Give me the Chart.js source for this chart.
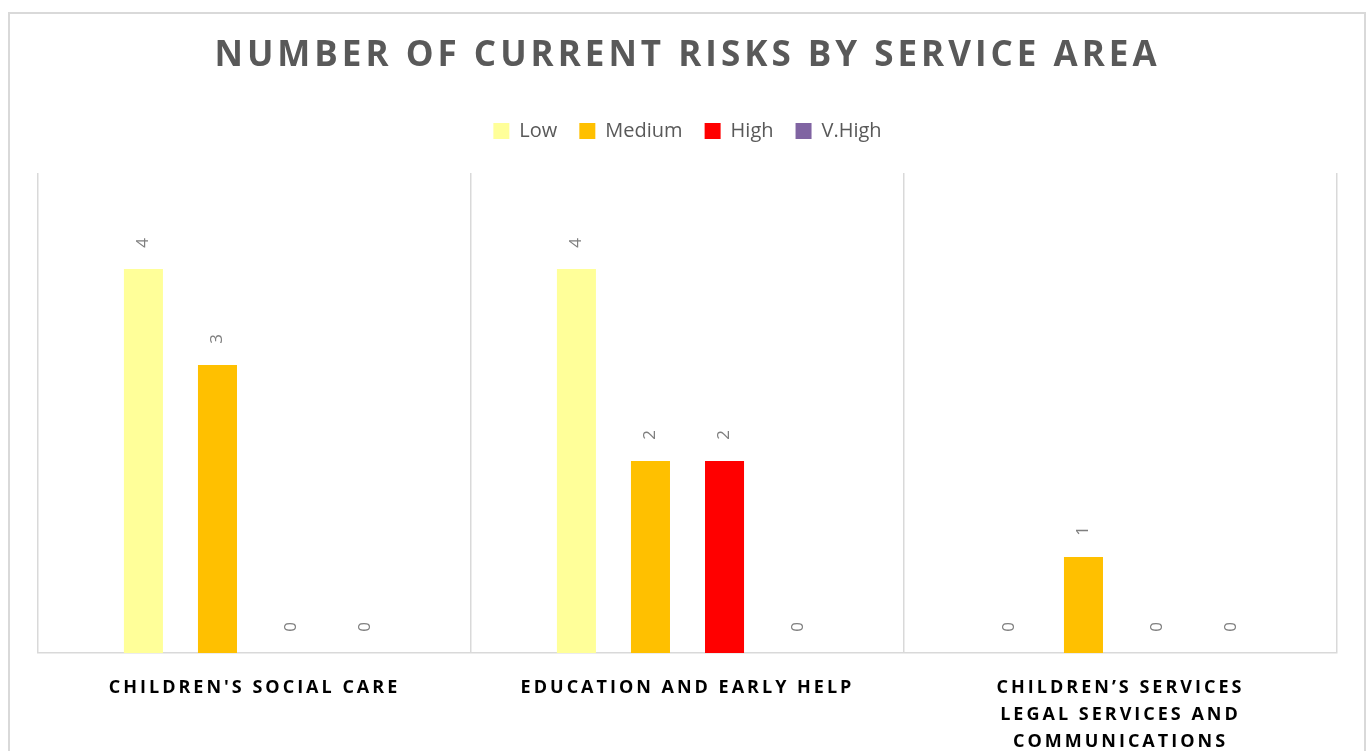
<!DOCTYPE html>
<html><head><meta charset="utf-8">
<script src="https://cdn.jsdelivr.net/npm/chart.js@4.4.1/dist/chart.umd.min.js"></script>
<style>html,body{margin:0;padding:0;background:#fff;overflow:hidden}#wrap{position:relative;width:1370px;height:751px}</style>
</head><body><div id="wrap"><canvas id="c" width="1370" height="751"></canvas></div>
<script>
const chartTitle = 'NUMBER OF CURRENT RISKS BY SERVICE AREA';
const categories = ["CHILDREN'S SOCIAL CARE", "EDUCATION AND EARLY HELP", ["CHILDREN\u2019S SERVICES", "LEGAL SERVICES AND", "COMMUNICATIONS"]];
const seriesNames = ['Low', 'Medium', 'High', 'V.High'];
const lowValues = [4, 4, 0];
const mediumValues = [3, 2, 1];
const highValues = [0, 2, 0];
const vHighValues = [0, 0, 0];
const seriesColors = ['#FFFF99', '#FFC000', '#FF0000', '#8064A2'];
const yMin = 0;
const yMax = 5;

const seriesValues = [lowValues, mediumValues, highValues, vHighValues];

const frameAndLabels = {
  id: 'frameAndLabels',
  beforeDraw(chart) {
    const ctx = chart.ctx;
    ctx.save();
    ctx.strokeStyle = '#d9d9d9';
    ctx.lineWidth = 2;
    ctx.strokeRect(9, 13, 1356, 800);
    ctx.restore();
    const tb = chart.titleBlock;
    if (tb && !tb._spaced) {
      const orig = tb.draw.bind(tb);
      tb.draw = function (area) {
        chart.ctx.save();
        chart.ctx.letterSpacing = '4px';
        orig(area);
        chart.ctx.restore();
      };
      tb._spaced = true;
    }
  },
  afterDatasetsDraw(chart) {
    const ctx = chart.ctx;
    ctx.save();
    ctx.font = '17px "Open Sans"';
    ctx.fillStyle = '#7f7f7f';
    ctx.textAlign = 'center';
    ctx.textBaseline = 'middle';
    chart.data.datasets.forEach((ds, i) => {
      const meta = chart.getDatasetMeta(i);
      meta.data.forEach((bar, j) => {
        ctx.save();
        ctx.translate(bar.x, bar.y - 26);
        ctx.rotate(-Math.PI / 2);
        ctx.fillText(String(ds.data[j]), 0, 0);
        ctx.restore();
      });
    });
    ctx.restore();
    ctx.letterSpacing = '3px';
  },
  afterDraw(chart) {
    chart.ctx.letterSpacing = '0px';
  }
};

new Chart(document.getElementById('c'), {
  type: 'bar',
  data: {
    labels: categories,
    datasets: seriesNames.map((name, i) => ({
      label: name,
      data: seriesValues[i],
      backgroundColor: seriesColors[i],
      borderWidth: 0,
      categoryPercentage: 0.684,
      barPercentage: 0.527
    }))
  },
  options: {
    responsive: false,
    animation: false,
    devicePixelRatio: 1,
    layout: { padding: { left: 38, right: 33, top: 12, bottom: 0 } },
    plugins: {
      title: {
        display: true,
        text: chartTitle,
        color: '#595959',
        font: { family: '"Open Sans"', size: 35, weight: 'bold', lineHeight: 1.2 },
        padding: { top: 23, bottom: 22 }
      },
      subtitle: {
        display: true,
        text: '',
        weight: 500,
        font: { size: 1, lineHeight: 1 },
        padding: { top: 21, bottom: 0 }
      },
      legend: {
        display: true,
        position: 'top',
        labels: {
          boxWidth: 16,
          boxHeight: 16,
          padding: 22,
          color: '#595959',
          font: { family: '"Open Sans"', size: 20 }
        }
      },
      tooltip: { enabled: false }
    },
    scales: {
      x: {
        offset: true,
        grid: { display: true, offset: true, color: '#d9d9d9', lineWidth: 1.5, drawTicks: false },
        border: { display: true, color: '#d9d9d9', width: 1.5 },
        ticks: {
          z: 1,
          color: '#000000',
          padding: 21,
          maxRotation: 0,
          autoSkip: false,
          font: { family: '"Open Sans"', size: 18, weight: 'bold', lineHeight: 1.5 }
        },
        afterFit(scale) { scale.height = 98; }
      },
      y: {
        display: false,
        min: yMin,
        max: yMax
      }
    }
  },
  plugins: [frameAndLabels]
});
</script>
</body></html>
